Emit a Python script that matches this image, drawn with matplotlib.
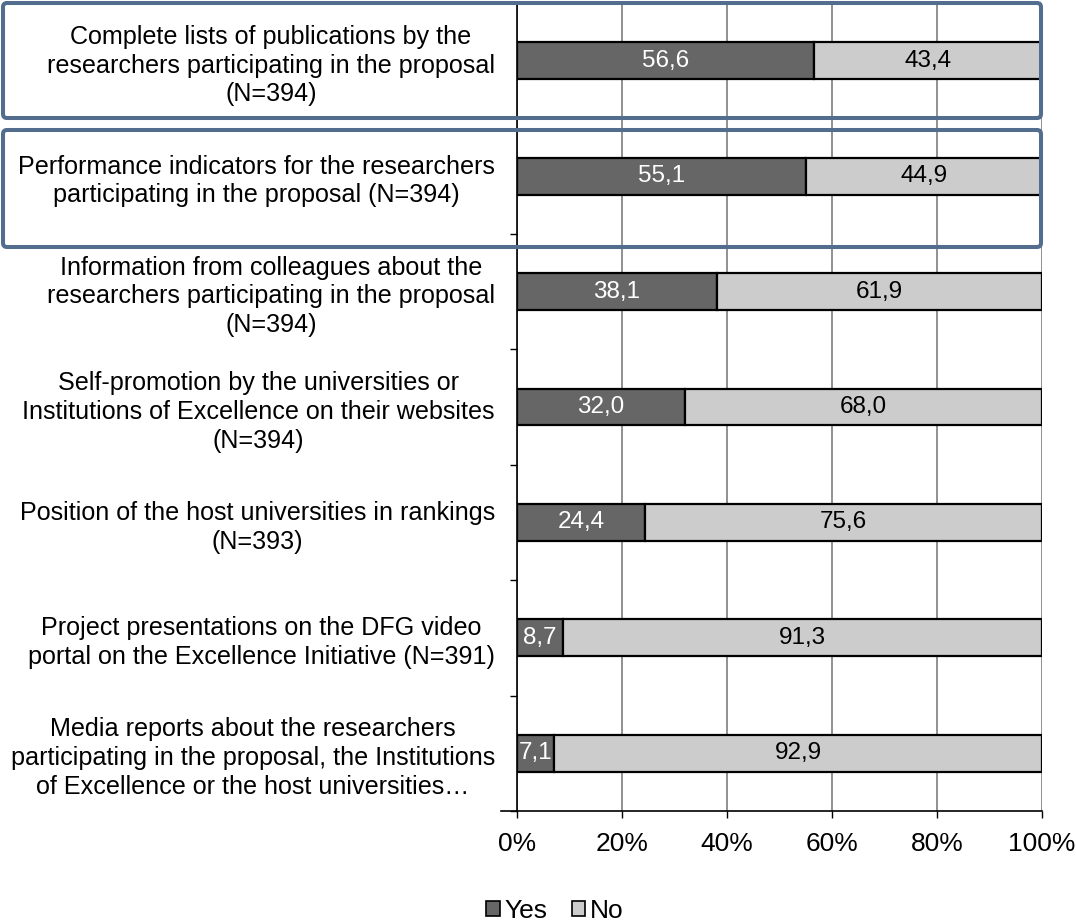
import matplotlib
matplotlib.use("Agg")
import matplotlib.pyplot as plt
import numpy as np
from matplotlib.patches import FancyBboxPatch, Patch
from matplotlib.transforms import IdentityTransform

plt.rcParams['font.family'] = ['Liberation Sans', 'DejaVu Sans']
plt.rcParams['font.size'] = 19

categories = [
    "Complete lists of publications by the\nresearchers participating in the proposal\n(N=394)",
    "Performance indicators for the researchers\nparticipating in the proposal (N=394)",
    "Information from colleagues about the\nresearchers participating in the proposal\n(N=394)",
    "Self-promotion by the universities or\nInstitutions of Excellence on their websites\n(N=394)",
    "Position of the host universities in rankings\n(N=393)",
    "Project presentations on the DFG video\nportal on the Excellence Initiative (N=391)",
    "Media reports about the researchers\nparticipating in the proposal, the Institutions\nof Excellence or the host universities\u2026",
]
yes = [56.6, 55.1, 38.1, 32.0, 24.4, 8.7, 7.1]
no = [43.4, 44.9, 61.9, 68.0, 75.6, 91.3, 92.9]
xticks = [0, 20, 40, 60, 80, 100]

W, H = 1076, 922
fig = plt.figure(figsize=(W / 100, H / 100), dpi=100)
ax = fig.add_axes([517 / W, 1 - 811 / H, (1042 - 517) / W, (811 - 3) / H])

y = np.arange(len(categories))
yes_bars = ax.barh(y, yes, height=0.32, color='#666666', edgecolor='black', linewidth=1.6, zorder=3)
no_bars = ax.barh(y, no, left=yes, height=0.32, color='#cccccc', edgecolor='black', linewidth=1.6, zorder=3)

def fmt(v):
    return f"{v:.1f}".replace('.', ',')

for b, v in zip(yes_bars, yes):
    ax.text(b.get_x() + b.get_width() / 2, b.get_y() + b.get_height() / 2, fmt(v),
            ha='center', va='center', color='white', fontsize=17.5, zorder=4)
for b, v in zip(no_bars, no):
    ax.text(b.get_x() + b.get_width() / 2, b.get_y() + b.get_height() / 2, fmt(v),
            ha='center', va='center', color='black', fontsize=17.5, zorder=4)

ax.set_xlim(0, 100)
ax.set_ylim(len(categories) - 0.5, -0.5)
ax.set_xticks(xticks)
ax.set_xticklabels([f"{t}%" for t in xticks])
ax.xaxis.grid(True, color='#888888', linewidth=1.3, zorder=0)
ax.set_axisbelow(True)

ax.set_yticks(y)
ax.set_yticklabels(categories, multialignment='center', linespacing=1.25, fontsize=18.1)
ax.set_yticks(np.arange(len(categories)) + 0.5, minor=True)
ax.tick_params(axis='y', which='major', length=0, pad=16)
ax.tick_params(axis='y', which='minor', length=5, width=1, color='black', direction='out')
ax.tick_params(axis='x', length=5, width=1, pad=10, direction='out')

for s in ['top', 'right']:
    ax.spines[s].set_visible(False)
for s in ['left', 'bottom']:
    ax.spines[s].set_color('black')
    ax.spines[s].set_linewidth(1.2)
ax.spines['bottom'].set_bounds(-3.0, 100)

# highlight boxes around the first two rows (pixel coordinates)
for top, bottom in [(3, 118), (130, 247)]:
    box = FancyBboxPatch((3, H - bottom), 1038, bottom - top,
                         boxstyle="round,pad=0,rounding_size=4",
                         transform=IdentityTransform(), fill=False,
                         edgecolor='#536d8e', linewidth=2.9, zorder=10)
    fig.add_artist(box)

handles = [Patch(facecolor='#666666', edgecolor='black', linewidth=1.2, label='Yes'),
           Patch(facecolor='#cccccc', edgecolor='black', linewidth=1.2, label='No')]
fig.legend(handles=handles, loc='center', bbox_to_anchor=(555 / W, 1 - 911 / H), ncol=2,
           frameon=False, handlelength=0.5, handleheight=0.5, handletextpad=0.2,
           columnspacing=0.9, borderpad=0, fontsize=19)

fig.savefig('out.png', dpi=100)
